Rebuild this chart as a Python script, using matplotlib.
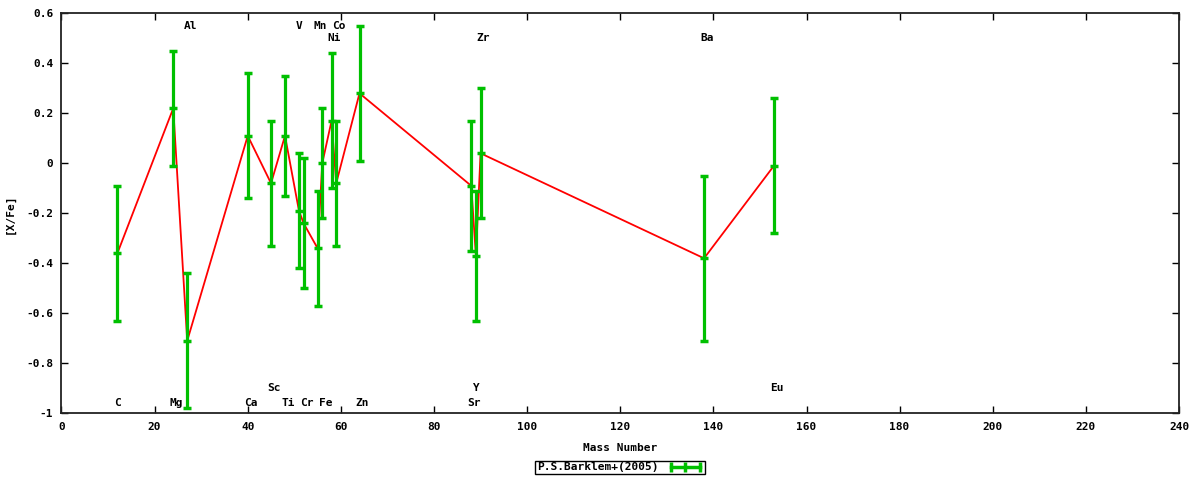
import matplotlib
matplotlib.use("Agg")
import matplotlib.pyplot as plt
from matplotlib.lines import Line2D
from matplotlib.legend_handler import HandlerLine2D

# ---- data ----
elements = ["C", "Mg", "Al", "Ca", "Sc", "Ti", "V", "Cr", "Mn", "Fe", "Ni", "Co", "Zn",
            "Sr", "Y", "Zr", "Ba", "Eu"]
mass = [12, 24, 27, 40, 45, 48, 51, 52, 55, 56, 58, 59, 64, 88, 89, 90, 138, 153]
xfe = [-0.36, 0.22, -0.71, 0.11, -0.08, 0.11, -0.19, -0.24, -0.34, 0.00, 0.17, -0.08, 0.28,
       -0.09, -0.37, 0.04, -0.38, -0.01]
err = [0.27, 0.23, 0.27, 0.25, 0.25, 0.24, 0.23, 0.26, 0.23, 0.22, 0.27, 0.25, 0.27,
       0.26, 0.26, 0.26, 0.33, 0.27]

label_names = ["C", "Mg", "Al", "Ca", "Sc", "Ti", "V", "Cr", "Mn", "Fe", "Co", "Ni", "Zn",
               "Sr", "Y", "Zr", "Ba", "Eu"]
label_x = [12, 24, 27, 40, 45, 48, 51, 52, 55, 56, 59, 58, 64, 88, 89, 90, 138, 153]
label_y = [-0.96, -0.96, 0.55, -0.96, -0.9, -0.96, 0.55, -0.96, 0.55, -0.96, 0.55, 0.5, -0.96,
           -0.96, -0.9, 0.5, 0.5, -0.9]

xticks = list(range(0, 241, 20))
yticks = [-1, -0.8, -0.6, -0.4, -0.2, 0, 0.2, 0.4, 0.6]
ytick_labels = ["-1", "-0.8", "-0.6", "-0.4", "-0.2", "0", "0.2", "0.4", "0.6"]

GREEN = "#00c000"
RED = "#ff0000"
FONT = {"family": "DejaVu Sans Mono", "weight": "bold", "size": 8}

fig = plt.figure(figsize=(12, 4.8), dpi=100)
ax = fig.add_axes([61.5 / 1200, 1 - 413.3 / 480, (1179 - 61.5) / 1200, 400 / 480])

ax.plot(mass, xfe, color=RED, lw=1.3, zorder=2)
ax.errorbar(mass, xfe, yerr=err, fmt="_", color=GREEN, ecolor=GREEN, elinewidth=2.3,
            capsize=3.2, capthick=2.5, markersize=6.4, markeredgewidth=2.5, zorder=3)

for n, lx, ly in zip(label_names, label_x, label_y):
    dx = 2.2 if len(n) == 2 else 0.0
    ax.annotate(n, (lx, ly), xytext=(dx, 0), textcoords="offset points",
                ha="center", va="center", fontsize=FONT["size"],
                family=FONT["family"], weight=FONT["weight"], zorder=4)

ax.set_xlim(0, 240)
ax.set_ylim(-1, 0.6)
ax.set_xticks(xticks)
ax.set_xticklabels([str(t) for t in xticks], fontdict=FONT)
ax.set_yticks(yticks)
ax.set_yticklabels(ytick_labels, fontdict=FONT)
ax.tick_params(direction="in", length=5, width=1, top=True, right=True, pad=6, colors="black")
for s in ax.spines.values():
    s.set_linewidth(1.3)
    s.set_color("#222222")

ax.set_xlabel("Mass Number", fontdict=FONT, labelpad=8)
ax.set_ylabel("[X/Fe]", fontdict=FONT, labelpad=8)

handle = Line2D([], [], color=GREEN, lw=2.5, marker="|", markersize=7, markeredgewidth=2.5)
leg = fig.legend([handle], ["P.S.Barklem+(2005)"], loc="center",
                 bbox_to_anchor=(620 / 1200, 1 - 467.5 / 480),
                 handler_map={handle: HandlerLine2D(numpoints=3)},
                 markerfirst=False, fancybox=False, framealpha=1, edgecolor="black",
                 prop=FONT, borderpad=0.15, handlelength=3.2, handletextpad=0.8,
                 borderaxespad=0)
leg.get_frame().set_linewidth(1.0)

fig.savefig("out.png", dpi=100)
